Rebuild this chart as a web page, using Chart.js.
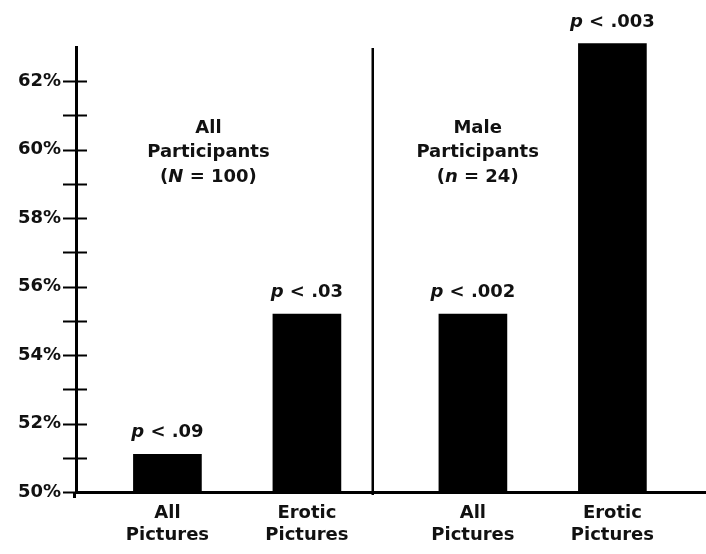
<!DOCTYPE html>
<html>
<head>
<meta charset="utf-8">
<script src="https://cdn.jsdelivr.net/npm/chart.js@4/dist/chart.umd.min.js"></script>
<style>
  html, body { margin: 0; padding: 0; background: #fff; }
  canvas { display: block; }
</style>
</head>
<body>
<canvas id="chart" width="706" height="554"></canvas>
<script>
// ---- data ----
const categories = ['All Pictures', 'Erotic Pictures', 'All Pictures', 'Erotic Pictures'];
const percentages = [51.1, 55.2, 55.2, 63.1];
const pThresholds = ['.09', '.03', '.002', '.003'];
const groupTitles = [['All', 'Participants'], ['Male', 'Participants']];
const groupSymbols = ['N', 'n'];
const groupCounts = [100, 24];
const yTickValues = [50, 51, 52, 53, 54, 55, 56, 57, 58, 59, 60, 61, 62];
const yLabelStep = 2;

// ---- layout ----
const slotPositions = [1, 2, 3.19, 4.19];   // bar centres on the x scale
const dividerAt = 2.472;                    // line separating the two participant groups
const groupAnchors = [{ x: 1.294, y: 60.5 }, { x: 3.224, y: 60.5 }];
const FAMILY = '"DejaVu Sans", "Liberation Sans", sans-serif';
const INK = '#111';

function font(size, italic) {
  return (italic ? 'italic ' : '') + 'bold ' + size + 'px ' + FAMILY;
}

// draw a run of text pieces (some italic) centred on cx
function drawRun(ctx, pieces, cx, baseline, size) {
  const widths = pieces.map(p => { ctx.font = font(size, p.italic); return ctx.measureText(p.text).width; });
  const total = widths.reduce((a, b) => a + b, 0);
  let x = cx - total / 2;
  ctx.textAlign = 'left';
  ctx.textBaseline = 'alphabetic';
  pieces.forEach((p, i) => {
    ctx.font = font(size, p.italic);
    ctx.fillText(p.text, x, baseline);
    x += widths[i];
  });
}

const decorations = {
  id: 'decorations',
  afterDraw(chart) {
    const { ctx, chartArea, scales: { x, y } } = chart;
    ctx.save();
    ctx.strokeStyle = '#000';

    // tick marks crossing the value axis
    ctx.lineWidth = 2;
    const axisX = chartArea.left;
    yTickValues.forEach(v => {
      const py = Math.round(y.getPixelForValue(v)) + 0.5;
      ctx.beginPath();
      ctx.moveTo(axisX - 13, py);
      ctx.lineTo(axisX + 11, py);
      ctx.stroke();
    });

    // short overhang of the value axis below the baseline
    ctx.lineWidth = 3;
    ctx.beginPath();
    ctx.moveTo(axisX - 1.5, chartArea.bottom);
    ctx.lineTo(axisX - 1.5, chartArea.bottom + 6);
    ctx.stroke();

    // group divider
    const dx = x.getPixelForValue(dividerAt);
    ctx.lineWidth = 2.5;
    ctx.beginPath();
    ctx.moveTo(dx, chartArea.top + 1);
    ctx.lineTo(dx, chartArea.bottom + 3);
    ctx.stroke();

    // group captions
    ctx.fillStyle = INK;
    groupAnchors.forEach((a, g) => {
      const cx = x.getPixelForValue(a.x);
      const by = y.getPixelForValue(a.y);
      groupTitles[g].forEach((line, i) => {
        drawRun(ctx, [{ text: line }], cx, by + i * 24.5, 18);
      });
      drawRun(ctx, [
        { text: '(' },
        { text: groupSymbols[g], italic: true },
        { text: ' = ' + groupCounts[g] + ')' }
      ], cx, by + 2 * 24.5, 18);
    });

    // significance labels above each bar
    const meta = chart.getDatasetMeta(0);
    meta.data.forEach((bar, i) => {
      drawRun(ctx, [
        { text: 'p', italic: true },
        { text: ' < ' + pThresholds[i] }
      ], bar.x, bar.y - 17, 18);
    });
    ctx.restore();
  }
};

new Chart(document.getElementById('chart'), {
  type: 'bar',
  data: {
    datasets: [{
      data: percentages.map((v, i) => ({ x: slotPositions[i], y: v })),
      backgroundColor: '#000',
      borderWidth: 0,
      barThickness: 68,
      base: 50,
      clip: false
    }]
  },
  options: {
    responsive: false,
    animation: false,
    devicePixelRatio: 1,
    layout: { padding: { top: 47, left: 0, right: 0, bottom: 0 } },
    plugins: { legend: { display: false }, tooltip: { enabled: false } },
    scales: {
      x: {
        type: 'linear',
        min: 0.3446,
        max: 4.861,
        offset: false,
        grid: { display: false, drawTicks: false },
        border: { display: true, color: '#000', width: 3 },
        afterBuildTicks: s => { s.ticks = slotPositions.map(v => ({ value: v })); },
        afterFit: s => { s.height = 62; },
        ticks: {
          autoSkip: false,
          maxRotation: 0,
          padding: 10,
          color: INK,
          font: { family: FAMILY, size: 18, weight: 'bold', lineHeight: 1.25 },
          callback: (v, i) => categories[i].split(' ')
        }
      },
      y: {
        min: 50,
        max: 63,
        afterBuildTicks: s => { s.ticks = yTickValues.map(v => ({ value: v })); },
        afterFit: s => { s.width = 76; },
        grid: { display: false, drawTicks: false },
        border: { display: true, color: '#000', width: 3 },
        ticks: {
          padding: 15,
          color: INK,
          font: { family: FAMILY, size: 18, weight: 'bold' },
          callback: v => ((v - 50) % yLabelStep === 0 ? v + '%' : '')
        }
      }
    }
  },
  plugins: [decorations]
});
</script>
</body>
</html>
